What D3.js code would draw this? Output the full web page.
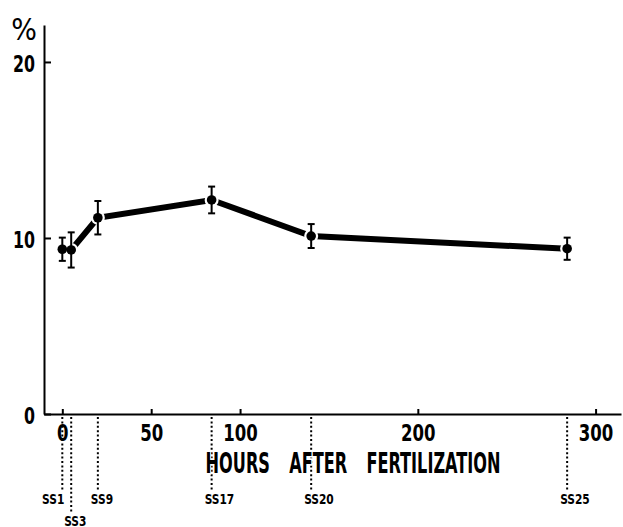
<!DOCTYPE html>
<html>
<head>
<meta charset="utf-8">
<script src="https://cdn.jsdelivr.net/npm/d3@7"></script>
<style>
  body { margin: 0; background: #fff; }
  svg { display: block; }
  text { font-family: "DejaVu Sans Condensed", "Liberation Sans Narrow", sans-serif; fill: #000; }
  .axis path, .axis line { stroke: #000; stroke-width: 2; }
  .axis text { font-size: 23px; font-weight: bold; }
  .drop { stroke: #000; stroke-width: 2; stroke-dasharray: 2 2.4; }
  .stage { font-size: 14px; font-weight: bold; }
</style>
</head>
<body>
<div id="chart"></div>
<script>
var stages = ['SS1', 'SS3', 'SS9', 'SS17', 'SS20', 'SS25'];
var hours = [0, 5, 20, 84, 140, 284];
var percent = [9.36, 9.32, 11.15, 12.16, 10.11, 9.39];
var sem = [0.66, 1.0, 0.95, 0.76, 0.68, 0.63];
var xTicks = [0, 50, 100, 200, 300];
var yTicks = [0, 10, 20];
var xTitle = 'HOURS AFTER FERTILIZATION';
var yTitle = '%';

var width = 623, height = 527;

var x = d3.scaleLinear().domain([-10.3, 314.3]).range([44, 621]);
var y = d3.scaleLinear().domain([0, 22.1]).range([414, 25]);

var svg = d3.select('#chart').append('svg')
  .attr('width', width)
  .attr('height', height);

// squeeze a text to about n px per character, like the narrow type of the figure
function narrow(sel, perChar) {
  sel.each(function() {
    var t = d3.select(this);
    var n = t.text().length;
    t.attr('textLength', n * perChar).attr('lengthAdjust', 'spacingAndGlyphs');
  });
}

// stage drop lines below the axis
var drops = svg.append('g');
stages.forEach(function(s, i) {
  var bottom = (i == 1) ? 512 : 490;
  drops.append('line')
    .attr('class', 'drop')
    .attr('x1', x(hours[i])).attr('x2', x(hours[i]))
    .attr('y1', y(0) + 3).attr('y2', bottom);
  var t = drops.append('text')
    .attr('class', 'stage')
    .attr('y', (i == 1) ? 525.5 : 503.5)
    .text(s);
  if (i == 0) {
    t.attr('x', x(hours[i]) + 2).attr('text-anchor', 'end');
  } else {
    t.attr('x', x(hours[i]) - 7);
  }
  narrow(t, 7.4);
});

// axes
var xAxis = d3.axisBottom(x)
  .tickValues(xTicks)
  .tickSizeInner(-5)
  .tickSizeOuter(0)
  .tickPadding(11)
  .tickFormat(d3.format('d'));
var gx = svg.append('g')
  .attr('class', 'axis')
  .attr('transform', 'translate(0,' + y(0) + ')')
  .call(xAxis);
gx.selectAll('text').call(narrow, 11.5);

var yAxis = d3.axisLeft(y)
  .tickValues(yTicks)
  .tickSizeInner(-7)
  .tickSizeOuter(0)
  .tickPadding(9)
  .tickFormat(d3.format('d'));
var gy = svg.append('g')
  .attr('class', 'axis')
  .attr('transform', 'translate(' + x.range()[0] + ',0)')
  .call(yAxis);
gy.selectAll('text').attr('font-size', '25px').attr('dy', '0.42em').call(narrow, 11);

svg.append('text')
  .attr('x', 24)
  .attr('y', 40)
  .attr('text-anchor', 'middle')
  .attr('font-size', '30px')
  .text(yTitle);

// x title, squeezed to the width it has in the figure
var title = svg.append('text')
  .attr('text-anchor', 'middle')
  .attr('font-size', '29px')
  .attr('font-weight', 'bold')
  .attr('word-spacing', '22px')
  .attr('stroke', '#fff')
  .attr('stroke-width', 3)
  .attr('paint-order', 'stroke')
  .text(xTitle);
var tw = title.node().getComputedTextLength();
title.attr('transform', 'translate(353,473) scale(' + (295 / tw) + ',1)');

// data
var pts = hours.map(function(h, i) { return {h: h, v: percent[i], e: sem[i]}; });

var line = d3.line()
  .x(function(d) { return x(d.h); })
  .y(function(d) { return y(d.v); });

svg.append('path')
  .datum(pts)
  .attr('d', line)
  .attr('fill', 'none')
  .attr('stroke', '#000')
  .attr('stroke-width', 6);

svg.selectAll('circle.halo')
  .data(pts)
  .enter().append('circle')
  .attr('class', 'halo')
  .attr('cx', function(d) { return x(d.h); })
  .attr('cy', function(d) { return y(d.v); })
  .attr('r', 7)
  .attr('fill', '#fff');

var bars = svg.selectAll('g.err')
  .data(pts)
  .enter().append('g')
  .attr('class', 'err')
  .attr('stroke', '#000')
  .attr('stroke-width', 2);
bars.append('line')
  .attr('x1', function(d) { return x(d.h); })
  .attr('x2', function(d) { return x(d.h); })
  .attr('y1', function(d) { return y(d.v - d.e); })
  .attr('y2', function(d) { return y(d.v + d.e); });
bars.append('line')
  .attr('x1', function(d) { return x(d.h) - 3.5; })
  .attr('x2', function(d) { return x(d.h) + 3.5; })
  .attr('y1', function(d) { return y(d.v + d.e); })
  .attr('y2', function(d) { return y(d.v + d.e); });
bars.append('line')
  .attr('x1', function(d) { return x(d.h) - 3.5; })
  .attr('x2', function(d) { return x(d.h) + 3.5; })
  .attr('y1', function(d) { return y(d.v - d.e); })
  .attr('y2', function(d) { return y(d.v - d.e); });

svg.selectAll('circle.dot')
  .data(pts)
  .enter().append('circle')
  .attr('class', 'dot')
  .attr('cx', function(d) { return x(d.h); })
  .attr('cy', function(d) { return y(d.v); })
  .attr('r', 4.8)
  .attr('fill', '#000');
</script>
</body>
</html>
